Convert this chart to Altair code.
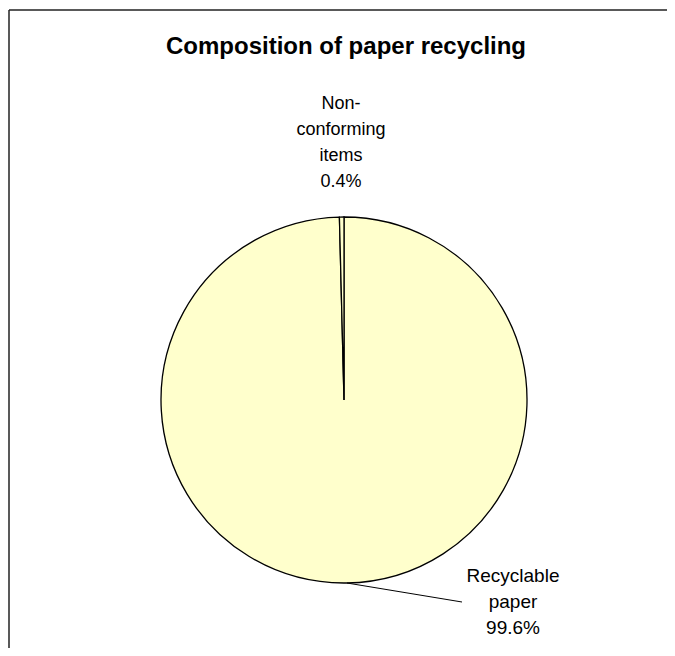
import altair as alt
import pandas as pd

# ---- data ----
categories = ["Recyclable paper", "Non-conforming items"]
values = [99.6, 0.4]
label_lines = [["Recyclable", "paper"], ["Non-", "conforming", "items"]]
title_text = "Composition of paper recycling"

texts = ["\n".join(lines + [f"{v}%"]) for lines, v in zip(label_lines, values)]
df = pd.DataFrame({"category": categories, "value": values, "order": [0, 1], "label": texts})

FONT = "Liberation Sans"
CX, CY, R = 336, 392, 183

base = alt.Chart(df)

pie = base.mark_arc(
    outerRadius=R, stroke="#000000", strokeWidth=1.3, fill="#FFFFCC"
).encode(
    theta=alt.Theta("value:Q", stack=True),
    order=alt.Order("order:Q"),
    x=alt.value(CX),
    y=alt.value(CY),
)

label_top = base.transform_filter(alt.datum.category == categories[1]).mark_text(
    font=FONT, fontSize=18, lineBreak="\n", lineHeight=26, align="center",
    baseline="alphabetic", color="#000000"
).encode(text="label:N", x=alt.value(333), y=alt.value(101))

label_bottom = base.transform_filter(alt.datum.category == categories[0]).mark_text(
    font=FONT, fontSize=19, lineBreak="\n", lineHeight=26, align="center",
    baseline="alphabetic", color="#000000"
).encode(text="label:N", x=alt.value(505), y=alt.value(574))

leader = base.transform_filter(alt.datum.category == categories[0]).mark_rule(
    color="#000000", strokeWidth=1
).encode(x=alt.value(339), y=alt.value(575), x2=alt.value(454), y2=alt.value(594))

title = alt.Chart(pd.DataFrame({"t": [title_text]})).mark_text(
    font=FONT, fontSize=24, fontWeight="bold", align="center", baseline="alphabetic",
    color="#000000"
).encode(text="t:N", x=alt.value(338), y=alt.value(46))

frame_top = alt.Chart(pd.DataFrame({"a": [0]})).mark_rule(color="#222222", strokeWidth=1.5).encode(
    x=alt.value(1), x2=alt.value(700), y=alt.value(2)
)
frame_left = alt.Chart(pd.DataFrame({"a": [0]})).mark_rule(color="#222222", strokeWidth=1.5).encode(
    x=alt.value(1), y=alt.value(2), y2=alt.value(700)
)

chart = alt.layer(pie, leader, label_top, label_bottom, title, frame_top, frame_left).properties(
    width=659, height=640, autosize=alt.AutoSizeParams(type="none"), padding=0,
    background="white"
).configure_view(stroke=None)

chart.save("out.html", embed_options={"renderer": "svg", "actions": False})
